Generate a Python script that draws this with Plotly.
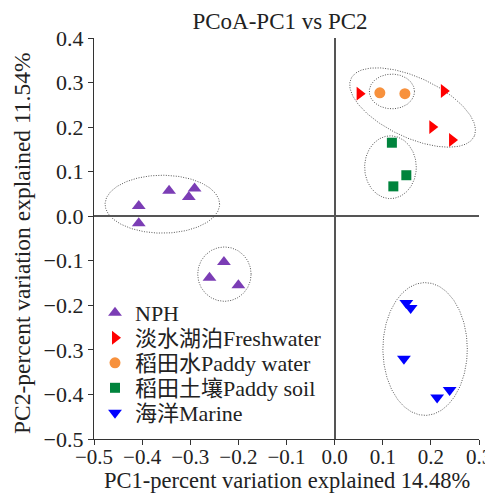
import numpy as np
import plotly.graph_objects as go

# ---- data ----
groups = ["NPH", "淡水湖泊Freshwater", "稻田水Paddy water", "稻田土壤Paddy soil", "海洋Marine"]
nph_x = [-0.407, -0.407, -0.344, -0.303, -0.291, -0.230, -0.260, -0.200]
nph_y = [0.023, -0.016, 0.057, 0.043, 0.062, -0.103, -0.138, -0.155]
fresh_x = [0.052, 0.227, 0.203, 0.244]
fresh_y = [0.275, 0.281, 0.200, 0.171]
pwater_x = [0.094, 0.146]
pwater_y = [0.277, 0.275]
psoil_x = [0.119, 0.149, 0.122]
psoil_y = [0.165, 0.092, 0.067]
marine_x = [0.149, 0.158, 0.144, 0.213, 0.239]
marine_y = [-0.195, -0.206, -0.320, -0.407, -0.390]

colors = ["#7B3DB5", "#FF0000", "#F7913D", "#00843D", "#0000FF"]
symbols = ["triangle-up", "triangle-right", "circle", "square", "triangle-down"]

# ellipses: center x, center y, semi-axis vector 1 (dx, dy), semi-axis vector 2 (dx, dy)
ell_cx = [-0.358, -0.229, 0.162, 0.119, 0.116, 0.188]
ell_cy = [0.027, -0.130, 0.244, 0.280, 0.110, -0.298]
ell_ax = [0.119, 0.0555, 0.128, 0.047, 0.0537, 0.0877]
ell_ay = [0.0, 0.0, -0.0647, 0.0, 0.0, 0.0]
ell_bx = [0.0, 0.0, -0.0264, 0.0, 0.0, 0.0]
ell_by = [0.065, 0.061, -0.0612, 0.039, 0.0705, 0.149]

xs = [nph_x, fresh_x, pwater_x, psoil_x, marine_x]
ys = [nph_y, fresh_y, pwater_y, psoil_y, marine_y]

FONT = "Liberation Serif, Times New Roman, Noto Sans CJK SC, serif"
INK = "#222222"

# the page body has an 8px default margin; figure is sized to fit the window
OFF = 8
W, H = 493 - OFF, 501 - OFF
ML, MR, MT, MB = 94 - OFF, 14, 38 - OFF, 62
PW, PH = W - ML - MR, H - MT - MB


def px_x(p):  # page pixel -> paper x
    return (p - OFF - ML) / PW


def px_y(p):  # page pixel -> paper y
    return (OFF + H - MB - p) / PH


fig = go.Figure()

t = np.linspace(0, 2 * np.pi, 240)
for cx, cy, ax_, ay_, bx_, by_ in zip(ell_cx, ell_cy, ell_ax, ell_ay, ell_bx, ell_by):
    ex = cx + ax_ * np.cos(t) + bx_ * np.sin(t)
    ey = cy + ay_ * np.cos(t) + by_ * np.sin(t)
    fig.add_trace(go.Scatter(x=ex, y=ey, mode="lines",
                             line=dict(color="#555555", width=1, dash="1px,1.5px"),
                             showlegend=False, hoverinfo="skip"))

# one legend box per group so row spacing can follow the reference
legend_rows_px = [313, 338, 363, 388, 413]
sizes = [12, 12, 11, 10, 12]
legend_layouts = {}
for i, (name, x, y, c, s, sz) in enumerate(zip(groups, xs, ys, colors, symbols, sizes)):
    lname = "legend" if i == 0 else f"legend{i + 1}"
    fig.add_trace(go.Scatter(x=x, y=y, mode="markers", name=name, legend=lname,
                             marker=dict(color=c, symbol=s, size=sz)))
    legend_layouts[lname] = dict(
        x=px_x(95), xanchor="left",
        y=px_y(legend_rows_px[i]), yanchor="middle",
        bgcolor="rgba(0,0,0,0)", borderwidth=0,
        font=dict(family=FONT, size=22, color=INK), itemwidth=30,
    )

fig.update_layout(
    width=W, height=H,
    margin=dict(l=ML, r=MR, t=MT, b=MB),
    paper_bgcolor="white", plot_bgcolor="white",
    font=dict(family=FONT, size=22, color=INK),
    title=dict(text="PCoA-PC1 vs PC2", xref="container", x=(280 - OFF) / W,
               xanchor="center", yref="container", y=1 - (21 - OFF) / H, yanchor="middle",
               font=dict(family=FONT, size=23, color=INK)),
    xaxis=dict(range=[-0.5, 0.3], dtick=0.1, tick0=-0.5, tickformat=".1f",
               showline=True, linecolor="#333333", linewidth=1.2,
               ticks="outside", ticklen=5, tickcolor="#333333",
               showgrid=False, zeroline=True, zerolinecolor="#555555", zerolinewidth=1.5,
               automargin=False, ticklabelstandoff=-6,
               tickfont=dict(family=FONT, size=21, color=INK)),
    yaxis=dict(range=[-0.5, 0.4], dtick=0.1, tick0=-0.5, tickformat=".1f",
               showline=True, linecolor="#333333", linewidth=1.2,
               ticks="outside", ticklen=5, tickcolor="#333333",
               showgrid=False, zeroline=True, zerolinecolor="#555555", zerolinewidth=1.5,
               automargin=False, ticklabelstandoff=0,
               tickfont=dict(family=FONT, size=22, color=INK)),
    annotations=[
        dict(text="PC1-percent variation explained 14.48%", xref="paper", yref="paper",
             x=px_x(286.5), y=px_y(481), xanchor="center", yanchor="middle",
             showarrow=False, font=dict(family=FONT, size=22.5, color=INK)),
        dict(text="PC2-percent variation explained 11.54%", xref="paper", yref="paper",
             x=px_x(22), y=px_y(243), xanchor="center", yanchor="middle",
             textangle=-90, showarrow=False, font=dict(family=FONT, size=23.5, color=INK)),
    ],
    **legend_layouts,
)

fig.write_html("out.html")
